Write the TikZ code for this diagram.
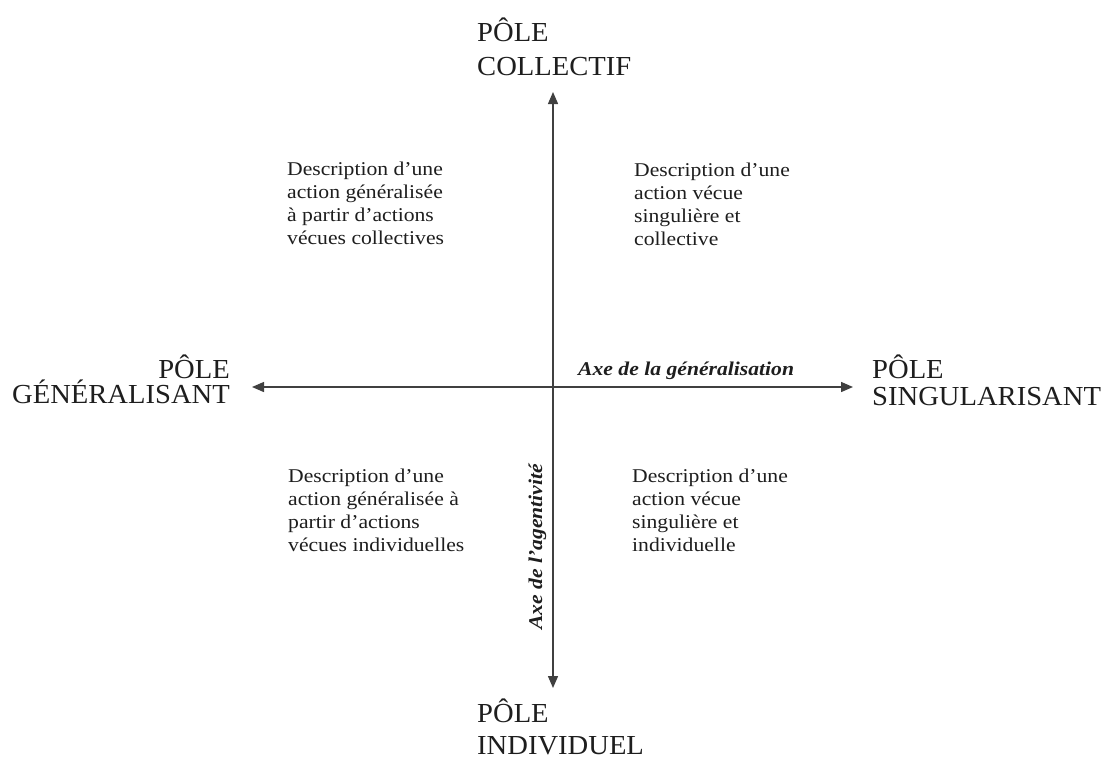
\documentclass[tikz,border=0pt]{standalone}
\usepackage{fontspec}
\setmainfont{Liberation Serif}
\newfontfamily\bigf[FakeStretch=1.04]{Liberation Serif}
\newfontfamily\smf[FakeStretch=1.11]{Liberation Serif}
\usetikzlibrary{arrows.meta}
\definecolor{ink}{HTML}{1E1E1E}
\begin{document}
\begin{tikzpicture}[x=1pt,y=-1pt,
  pole/.style={inner sep=0pt, text=ink},
  desc/.style={inner sep=0pt, text=ink, align=left, anchor=base west,
    font=\smf\fontsize{19.5}{23}\selectfont},
  axislabel/.style={inner sep=0pt, text=ink,
    font=\smf\bfseries\itshape\fontsize{19.5}{23}\selectfont},
  axisline/.style={draw=ink!85, line width=1.4pt,
    {Triangle[length=12pt,width=10pt]}-{Triangle[length=12pt,width=10pt]}}]
\useasboundingbox (0,0) rectangle (1107,758);
\fill[white] (0,0) rectangle (1107,758);

\coordinate (top) at (553,92);
\coordinate (bottom) at (553,688);
\coordinate (left) at (252,387);
\coordinate (right) at (853,387);
\draw[axisline] (top) -- (bottom);
\draw[axisline] (left) -- (right);

% base anchor of a multi-line node = baseline of its last line
\node[pole, align=left, anchor=base west, font=\bigf\fontsize{27.5}{34}\selectfont] (pc) at (477,75) {PÔLE\\COLLECTIF};
\node[pole, align=left, anchor=base west, font=\bigf\fontsize{27.5}{32}\selectfont] (pi) at (477,754) {PÔLE\\INDIVIDUEL};
\node[pole, align=right, anchor=base east, font=\bigf\fontsize{27.5}{25}\selectfont] (pg) at (230,403) {PÔLE\\GÉNÉRALISANT};
\node[pole, align=left, anchor=base west, font=\bigf\fontsize{27.5}{27}\selectfont] (ps) at (872,405) {PÔLE\\SINGULARISANT};

\node[axislabel, anchor=base west] (ag) at (578,375) {Axe de la généralisation};
\node[axislabel, anchor=base west, rotate=90] (aa) at (542,630) {Axe de l’agentivité};

\node[desc] (tl) at (287,244) {Description d’une\\action généralisée\\à partir d’actions\\vécues collectives};
\node[desc] (tr) at (634,245) {Description d’une\\action vécue\\singulière et\\collective};
\node[desc] (bl) at (288,551) {Description d’une\\action généralisée à\\partir d’actions\\vécues individuelles};
\node[desc] (br) at (632,551) {Description d’une\\action vécue\\singulière et\\individuelle};
\end{tikzpicture}
\end{document}
